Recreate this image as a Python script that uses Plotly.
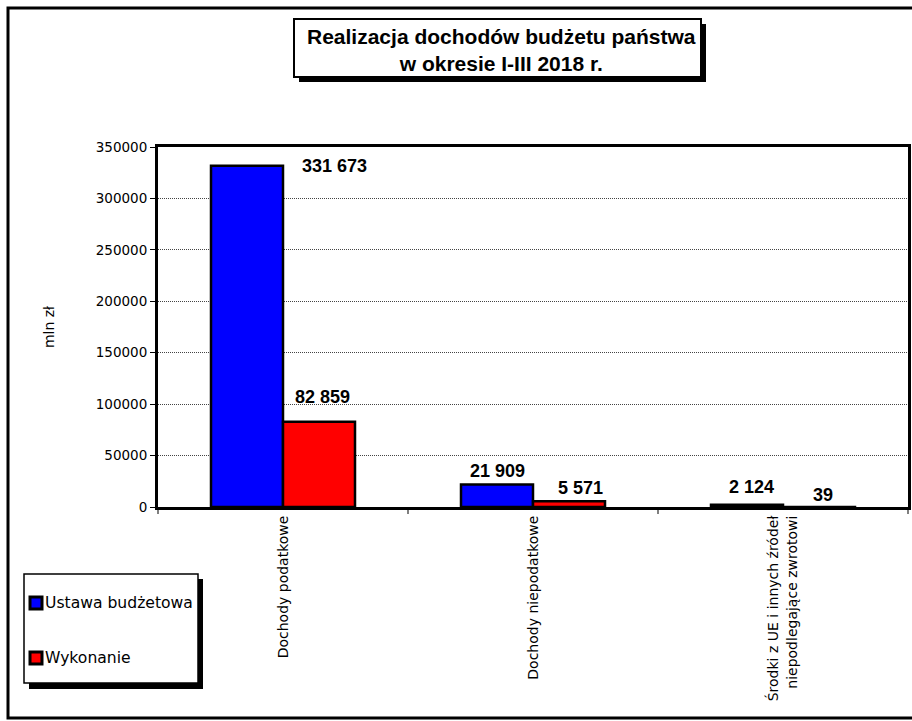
import plotly.graph_objects as go

# ---- data ----
categories = ["Dochody podatkowe", "Dochody niepodatkowe",
              "Środki z UE i innych źródeł<br>niepodlegające zwrotowi"]
ustawa = [331673, 21909, 2124]
wykonanie = [82859, 5571, 39]
series_names = ["Ustawa budżetowa", "Wykonanie"]
y_ticks = [0, 50000, 100000, 150000, 200000, 250000, 300000, 350000]

# ---- layout geometry (pixels) ----
W, H = 912, 721
L, R, T, B = 158, 4, 147, 214
PW = W - L - R
PH = H - T - B


def px(xp):
    return (xp - L) / PW


def py(yp):
    return (H - B - yp) / PH


colors = ["#0000FF", "#FF0000"]
fig = go.Figure()
for name, vals, col in zip(series_names, [ustawa, wykonanie], colors):
    fig.add_trace(go.Bar(
        x=categories, y=vals, name=name,
        marker=dict(color=col, line=dict(color="black", width=2.5)),
        showlegend=False,
    ))

# data labels (manually offset like the original)
fmt = lambda v: f"{v:,}".replace(",", " ")
label_shift = {  # (series index, category index): (xshift, yshift)
    (0, 0): (51, 0), (1, 0): (39, 25),
    (0, 1): (-36, 13), (1, 1): (47, 13),
    (0, 2): (-32, 18), (1, 2): (40, 12),
}
annotations = []
for si, vals in enumerate([ustawa, wykonanie]):
    for ci, v in enumerate(vals):
        xs, ys = label_shift[(si, ci)]
        annotations.append(dict(
            x=categories[ci], y=v, xref="x", yref="y", text=fmt(v),
            showarrow=False, xshift=xs, yshift=ys, yanchor="middle",
            font=dict(family="Liberation Sans, Arial", size=18, color="black", weight="bold"),
        ))

# title
annotations.append(dict(
    x=px(501), y=py(50), xref="paper", yref="paper",
    text="<b>Realizacja dochodów budżetu państwa<br>w okresie I-III 2018 r.</b>",
    showarrow=False, xanchor="center", yanchor="middle",
    font=dict(family="Liberation Sans, Arial", size=21, color="black"),
))

# manual legend text
leg_font = dict(family="DejaVu Sans", size=15.6, color="black")
for name, yc in zip(series_names, [603, 658]):
    annotations.append(dict(
        x=px(43), y=py(yc), xref="paper", yref="paper", text=name,
        showarrow=False, xanchor="left", yanchor="middle", font=leg_font,
    ))

shapes = []
# outer frame
shapes.append(dict(type="rect", xref="paper", yref="paper",
                   x0=px(8), x1=px(925), y0=py(8), y1=py(718),
                   line=dict(color="black", width=3), fillcolor="rgba(0,0,0,0)", layer="below"))
# title box with shadow
shapes.append(dict(type="rect", xref="paper", yref="paper",
                   x0=px(299), x1=px(706), y0=py(24), y1=py(82),
                   line=dict(width=0), fillcolor="black"))
shapes.append(dict(type="rect", xref="paper", yref="paper",
                   x0=px(294), x1=px(701), y0=py(19), y1=py(77),
                   line=dict(color="black", width=2), fillcolor="white"))
# legend box with shadow
shapes.append(dict(type="rect", xref="paper", yref="paper",
                   x0=px(29), x1=px(203), y0=py(579), y1=py(689),
                   line=dict(width=0), fillcolor="black"))
shapes.append(dict(type="rect", xref="paper", yref="paper",
                   x0=px(24), x1=px(198), y0=py(574), y1=py(683),
                   line=dict(color="black", width=1.5), fillcolor="white"))
# legend squares
for col, yc in zip(colors, [603, 658]):
    shapes.append(dict(type="rect", xref="paper", yref="paper",
                       x0=px(30), x1=px(42), y0=py(yc - 6), y1=py(yc + 6),
                       line=dict(color="black", width=3), fillcolor=col))

fig.update_layout(
    width=W, height=H,
    margin=dict(l=L, r=R, t=T, b=B, autoexpand=False),
    paper_bgcolor="white", plot_bgcolor="white",
    barmode="group", bargap=0.424, bargroupgap=0,
    font=dict(family="DejaVu Sans", size=13.5, color="black"),
    annotations=annotations, shapes=shapes,
    hovermode=False,
    xaxis=dict(
        type="category", tickangle=-90, tickson="boundaries",
        ticks="outside", ticklen=4, tickcolor="#808080", tickwidth=1.5,
        showline=True, linecolor="black", linewidth=3, mirror=True,
        showgrid=False, automargin=False,
        tickfont=dict(family="DejaVu Sans", size=14, color="black"),
    ),
    yaxis=dict(
        range=[0, 350000], tickvals=y_ticks, tickformat="d",
        ticks="outside", ticklen=5, tickcolor="black", tickwidth=1,
        showline=True, linecolor="black", linewidth=3, mirror=True,
        showgrid=True, gridcolor="#444444", gridwidth=1, griddash="1px,1px",
        zeroline=False, automargin=False,
        title=dict(text="mln zł", standoff=38,
                   font=dict(family="DejaVu Sans", size=14, color="black")),
        tickfont=dict(family="DejaVu Sans", size=13.5, color="black"),
    ),
)

fig.write_html(
    "out.html",
    config={"displayModeBar": False},
    post_script="document.body.style.margin='0';document.body.style.overflow='hidden';",
)
